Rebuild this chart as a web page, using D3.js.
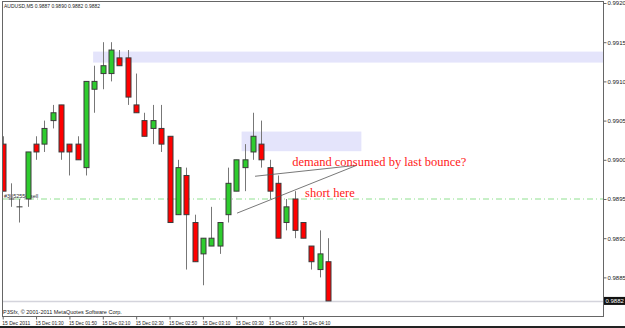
<!DOCTYPE html>
<html>
<head>
<meta charset="utf-8">
<script src="https://cdn.jsdelivr.net/npm/d3@7"></script>
<style>
  html, body { margin: 0; padding: 0; background: #fff; }
  svg { display: block; }
  .ax text { font-family: "Liberation Sans", Arial, sans-serif; font-size: 6px; fill: #222; }
</style>
</head>
<body>
<div id="chart"></div>
<script>
// AUDUSD M5 candles, 15 Dec 2011 01:10 .. 04:25
const opens  = [0.9902,0.9895,0.9894,0.9895,0.9902,0.9902,0.9905,0.9907,0.9902,0.9902,
                0.9899,0.9909,0.9911,0.9911,0.9913,0.9913,0.9907,0.9905,0.9904,0.9904,
                0.9903,0.9893,0.9898,0.9892,0.9888,0.9889,0.9889,0.9893,0.9896,0.9899,
                0.9901,0.9902,0.9899,0.9897,0.9892,0.9895,0.9892,0.9889,0.9886,0.9887]
const highs  = [0.9903,0.9897,0.9895,0.9901,0.9903,0.9905,0.9907,0.9907,0.9902,0.9903,
                0.9910,0.9912,0.9915,0.9915,0.9914,0.9914,0.9911,0.9906,0.9907,0.9907,
                0.9903,0.9900,0.9899,0.9893,0.9890,0.9894,0.9892,0.9899,0.9900,0.9902,
                0.9906,0.9905,0.9900,0.9898,0.9895,0.9896,0.9892,0.9889,0.9891,0.9890]
const lows   = [0.9896,0.9894,0.9892,0.9894,0.9900,0.9901,0.9904,0.9900,0.9898,0.9900,
                0.9898,0.9906,0.9909,0.9910,0.9912,0.9907,0.9906,0.9903,0.9902,0.9901,
                0.9892,0.9893,0.9886,0.9887,0.9884,0.9889,0.9888,0.9892,0.9896,0.9896,
                0.9900,0.9899,0.9895,0.9890,0.9891,0.9890,0.9890,0.9886,0.9885,0.9882]
const closes = [0.9896,0.9895,0.9894,0.9901,0.9901,0.9904,0.9906,0.9901,0.9901,0.9900,
                0.9910,0.9910,0.9912,0.9914,0.9912,0.9908,0.9906,0.9903,0.9905,0.9902,
                0.9892,0.9899,0.9893,0.9887,0.9890,0.9890,0.9892,0.9897,0.9900,0.9900,
                0.9903,0.9900,0.9896,0.9890,0.9894,0.9891,0.9890,0.9887,0.9888,0.9882]

const priceTicks = [0.9885,0.9890,0.9895,0.9900,0.9905,0.9910,0.9915,0.9920]
const timeTickIdx = [0,4,8,12,16,20,24,28,32,36]
const timeTickLabels = ['15 Dec 2011','15 Dec 01:30','15 Dec 01:50','15 Dec 02:10','15 Dec 02:30',
                        '15 Dec 02:50','15 Dec 03:10','15 Dec 03:30','15 Dec 03:50','15 Dec 04:10']

// supply zones: [startIdx, endIdx, top, bottom]  (endIdx null = to the right edge)
const zones = [[11.2, null, 0.99138, 0.99124], [29, 43, 0.99036, 0.99011]]
const orderLevel = 0.9895
const orderLabel = '#3052554 sell'
// annotation lines [idx1, price1, idx2, price2]
const arrows = [[30.25, 0.98979, 42.45, 0.98993], [28.1, 0.98932, 42.45, 0.98993]]
const notes = [['demand consumed by last bounce?', 34.7, 0.98992], ['short here', 36.25, 0.98953]]

const W = 625, H = 328
const plot = { left: 2, right: 603, top: 1, bottom: 316 }

const svg = d3.select('#chart').append('svg').attr('width', W).attr('height', H)

svg.append('clipPath').attr('id', 'clip').append('rect')
  .attr('x', plot.left + 1).attr('y', plot.top).attr('width', plot.right - plot.left).attr('height', plot.bottom - plot.top)

const x = d3.scaleLinear().domain([0, 39]).range([2.7, 328])
const y = d3.scaleLinear().domain([0.9885, 0.9920]).range([277.4, 3])

// zones
svg.append('g').selectAll('rect').data(zones).join('rect')
  .attr('x', d => x(d[0]) - 3)
  .attr('y', d => y(d[2]))
  .attr('width', d => (d[1] === null ? plot.right : x(d[1])) - x(d[0]) + 3)
  .attr('height', d => y(d[3]) - y(d[2]))
  .attr('fill', '#e4e4fb')

// order line
svg.append('line')
  .attr('x1', plot.left).attr('x2', plot.right)
  .attr('y1', y(orderLevel)).attr('y2', y(orderLevel))
  .attr('stroke', '#8fe08f').attr('stroke-width', 1)
  .attr('stroke-dasharray', '6,3,1,3')
svg.append('text').attr('x', 4).attr('y', y(orderLevel) - 1.5)
  .attr('font-family', 'Liberation Sans, Arial, sans-serif').attr('font-size', 5.5)
  .attr('fill', '#333').text(orderLabel)

// bid line
svg.append('line')
  .attr('x1', plot.left).attr('x2', plot.right)
  .attr('y1', y(closes[closes.length - 1]) + 0.5).attr('y2', y(closes[closes.length - 1]) + 0.5)
  .attr('stroke', '#d4d4dc').attr('stroke-width', 1.5)

// candles
const candles = d3.range(opens.length)
const cg = svg.append('g').attr('clip-path', 'url(#clip)')
cg.selectAll('line').data(candles).join('line')
  .attr('x1', i => Math.round(x(i)) + 0.5).attr('x2', i => Math.round(x(i)) + 0.5)
  .attr('y1', i => y(highs[i])).attr('y2', i => y(lows[i]))
  .attr('stroke', '#777').attr('stroke-width', 1)
cg.selectAll('rect').data(candles).join('rect')
  .attr('x', i => Math.round(x(i)) - 2)
  .attr('y', i => y(Math.max(opens[i], closes[i])))
  .attr('width', 5)
  .attr('height', i => Math.max(0.01, Math.abs(y(opens[i]) - y(closes[i]))))
  .attr('fill', i => closes[i] >= opens[i] ? '#2ecc2e' : '#ff0000')
  .attr('stroke', '#3a3a3a').attr('stroke-width', 1)

// annotation lines and notes
svg.append('g').selectAll('line').data(arrows).join('line')
  .attr('x1', d => x(d[0])).attr('y1', d => y(d[1]))
  .attr('x2', d => x(d[2])).attr('y2', d => y(d[3]))
  .attr('stroke', '#555').attr('stroke-width', 0.8)
svg.append('g').selectAll('text').data(notes).join('text')
  .attr('x', d => x(d[1])).attr('y', d => y(d[2]))
  .attr('font-family', 'Liberation Serif, Times New Roman, serif')
  .attr('font-size', 12.5).attr('fill', '#ff2020')
  .text(d => d[0])

// frame
svg.append('rect')
  .attr('x', plot.left + 0.5).attr('y', plot.top + 0.5)
  .attr('width', plot.right - plot.left).attr('height', plot.bottom - plot.top)
  .attr('fill', 'none').attr('stroke', '#666')

// price axis
const yAxis = svg.append('g').attr('class', 'ax')
  .attr('transform', `translate(${plot.right + 0.5},0)`)
  .call(d3.axisRight(y).tickValues(priceTicks).tickFormat(d3.format('.4f')).tickSize(3).tickPadding(1))
yAxis.select('.domain').remove()
yAxis.selectAll('line').attr('stroke', '#666')

// current price tag
const last = closes[closes.length - 1]
svg.append('rect').attr('x', plot.right + 1).attr('y', y(last) - 4)
  .attr('width', 21).attr('height', 8).attr('fill', '#111')
svg.append('text').attr('x', plot.right + 2.5).attr('y', y(last) + 2.2)
  .attr('font-family', 'Liberation Sans, Arial, sans-serif').attr('font-size', 6)
  .attr('fill', '#fff').text(d3.format('.4f')(last))

// time axis
const xAxis = svg.append('g').attr('class', 'ax')
  .attr('transform', `translate(0,${plot.bottom + 0.5})`)
  .call(d3.axisBottom(x).tickValues(timeTickIdx).tickFormat((d, i) => timeTickLabels[i]).tickSize(3).tickPadding(1))
xAxis.select('.domain').remove()
xAxis.selectAll('line').attr('stroke', '#666')
xAxis.selectAll('text').attr('text-anchor', 'start').attr('dx', -1)
  .attr('textLength', 28).attr('lengthAdjust', 'spacingAndGlyphs')

// title and copyright
svg.append('text').attr('x', 4).attr('y', 8)
  .attr('font-family', 'Liberation Sans, Arial, sans-serif').attr('font-size', 5.5).attr('fill', '#222')
  .attr('textLength', 96).attr('lengthAdjust', 'spacingAndGlyphs')
  .text('AUDUSD,M5  0.9887 0.9890 0.9882 0.9882')
svg.append('text').attr('x', 3).attr('y', plot.bottom - 2)
  .attr('font-family', 'Liberation Sans, Arial, sans-serif').attr('font-size', 5.5).attr('fill', '#222')
  .text('P3Sfx, © 2001-2011 MetaQuotes Software Corp.')

// window border
svg.append('line').attr('x1', 0).attr('x2', W).attr('y1', H - 1).attr('y2', H - 1)
  .attr('stroke', '#222').attr('stroke-width', 2)
</script>
</body>
</html>
